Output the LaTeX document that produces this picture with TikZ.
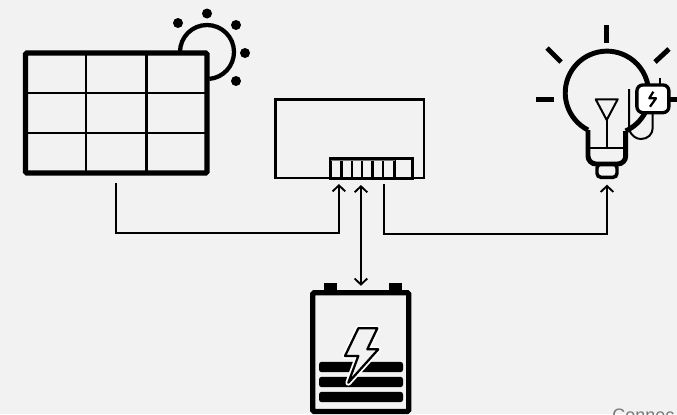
\documentclass[tikz,border=0pt]{standalone}
\usepackage{fontspec}
\setmainfont{Liberation Sans}
\usepackage{xcolor}
\usetikzlibrary{arrows.meta, positioning}
\definecolor{solarbg}{RGB}{242,242,242}
\definecolor{solarink}{RGB}{0,0,0}
\definecolor{solarnote}{RGB}{120,120,120}

\begin{document}
\begin{tikzpicture}[
    x=0.75pt, y=-0.75pt,
    box/.style={rectangle, draw=solarink, outer sep=0pt, inner sep=0pt},
    link/.style={{Straight Barb[length=4.5pt,width=9.5pt]}-{Straight Barb[length=4.5pt,width=9.5pt]}, line width=1.4pt, solarink},
    feed/.style={-{Straight Barb[length=4.5pt,width=9.5pt]}, line width=1.4pt, solarink},
    heavy/.style={line width=3.7pt, solarink},
    thin part/.style={line width=1.5pt, solarink},
    dot/.style={circle, fill=solarink, minimum size=7.5pt, inner sep=0pt},
    bar/.style={rectangle, fill=solarink, rounded corners=2pt, outer sep=0pt, minimum width=63pt, minimum height=7.8pt, inner sep=0pt},
    pole/.style={rectangle, fill=solarink, minimum width=9.75pt, minimum height=7pt, inner sep=0pt},
]
    \useasboundingbox[fill=solarbg] (0,0) rectangle (677,414);

    % Sun behind the panel
    \draw[line width=3.2pt, solarink] (180,52) arc[start angle=180, end angle=445, radius=27];
    \foreach \px/\py [count=\i] in {178/23, 207/13.5, 236/25, 245/53, 236/81}
        \node[dot] (ray\i) at (\px,\py) {};

    % Panel
    \node[box, line width=3.9pt, rounded corners=1pt, minimum width=136pt, minimum height=90pt] (panel) at (116.25,113) {};
    \foreach \x in {86,146.5}
        \draw[line width=1.7pt, solarink] (\x,53) -- (\x,173);
    \foreach \y in {93,133}
        \draw[line width=1.7pt, solarink] (25.5,\y) -- (207,\y);

    % Controller
    \node[box, line width=1.9pt, minimum width=111.2pt, minimum height=59pt,
          right=51.5pt of panel, yshift=-19.3pt] (ctrl) {};
    \node[box, line width=2.3pt, minimum width=48pt, minimum height=15pt, anchor=south west]
        (terminals) at ([xshift=41.5pt]ctrl.south west) {};
    \node[box, line width=2.3pt, minimum width=13.3pt, minimum height=15pt, right=0pt of terminals] (fuse) {};
    \foreach \x in {341.7,352,362,372.7,383}
        \draw[line width=2pt, solarink] (\x,158) -- (\x,178);
    \draw[line width=0.8pt, solarnote] (331,160.5) -- (395,160.5);

    % Battery
    \node[box, line width=3.9pt, rounded corners=1pt, minimum width=72pt, minimum height=89pt,
          below=86pt of ctrl, xshift=8.25pt] (batt) {};
    \node[pole, anchor=south, xshift=-22.9pt] (poleL) at (batt.north) {};
    \node[pole, anchor=south, xshift=25.9pt] (poleR) at (batt.north) {};
    \node[bar] (barA) at (361,367) {};
    \node[bar, below=3.45pt of barA] (barB) {};
    \node[bar, below=3.45pt of barB] (barC) {};
    \draw[line width=4.4pt, white, line join=round, fill=white]
        (358.3,328.3) -- (377.3,328.3) -- (367.3,349.3) -- (378.3,349.3) -- (348.3,382.7) -- (358.3,356) -- (345,356) -- cycle;
    \draw[line width=1.7pt, solarink, line join=round, fill=solarbg]
        (358.3,328.3) -- (377.3,328.3) -- (367.3,349.3) -- (378.3,349.3) -- (348.3,382.7) -- (358.3,356) -- (345,356) -- cycle;

    % Lamp
    \foreach \ax/\ay/\bx/\by in {606.7/25/606.7/43, 547/48/561/62, 669/49/655/62, 536/99.5/554/99.5, 670/99.5/677/99.5}
        \draw[line width=3.7pt, solarink] (\ax,\ay) -- (\bx,\by);
    \draw[heavy] (588,130) arc[start angle=117, end angle=350, radius=41.7];
    \draw[heavy, rounded corners=6pt] (588,130) -- (588,164) -- (625.7,164) -- (625.7,131);
    \draw[heavy] (625.7,131) .. controls (634,127) and (641,121) .. (646,111);
    \node[box, line width=2.6pt, rounded corners=3pt, minimum width=15pt, minimum height=10pt, anchor=north] (lamp) at (607,164) {};
    \draw[thin part] (588,148) -- (625.7,148);
    \draw[thin part, line join=round] (595.7,99.3) -- (617.7,99.3) -- (606.7,120) -- cycle;
    \draw[thin part] (606.7,120) -- (606.7,148);
    \draw[thin part] (629,89) -- (629,130) .. controls (632,136) and (636,139) .. (641,139)
        .. controls (648,139) and (652.7,134) .. (652.7,128) -- (652.7,113);
    \draw[thin part] (660,78) -- (660,85);
    \node[box, fill=white, line width=2.5pt, rounded corners=4.5pt, minimum width=24pt, minimum height=20.8pt] (plug) at (652.9,98.8) {};
    \draw[line width=1.7pt, solarink, line join=round] (653.3,91.7) -- (649.3,98.3) -- (656,98.3) -- (650,106.7);

    % Connections
    \coordinate (panelOut) at ([yshift=-7.5pt]panel.south);
    \coordinate (pvIn) at ([xshift=-18pt,yshift=-4.5pt]terminals.south);
    \coordinate (battPort) at ([xshift=-1.5pt,yshift=-5.2pt]terminals.south);
    \coordinate (loadOut) at ([xshift=15.75pt,yshift=-4.5pt]terminals.south);
    \coordinate (lampIn) at ([yshift=-5.5pt]lamp.south);
    \coordinate (battIn) at ([yshift=5.2pt]batt.north);
    \draw[feed] (panelOut) -- ++(0,-37.5pt) -| (pvIn);
    \draw[link] (battPort) -- (battPort |- battIn);
    \draw[feed] (loadOut) -- ++(0,-37.4pt) -| (lampIn);

    % Cut off by the edge
    \node[anchor=base west, inner sep=0pt, font=\fontsize{13.5pt}{15pt}\selectfont, text=solarnote] (note) at (612,421) {Connec};
\end{tikzpicture}
\end{document}
